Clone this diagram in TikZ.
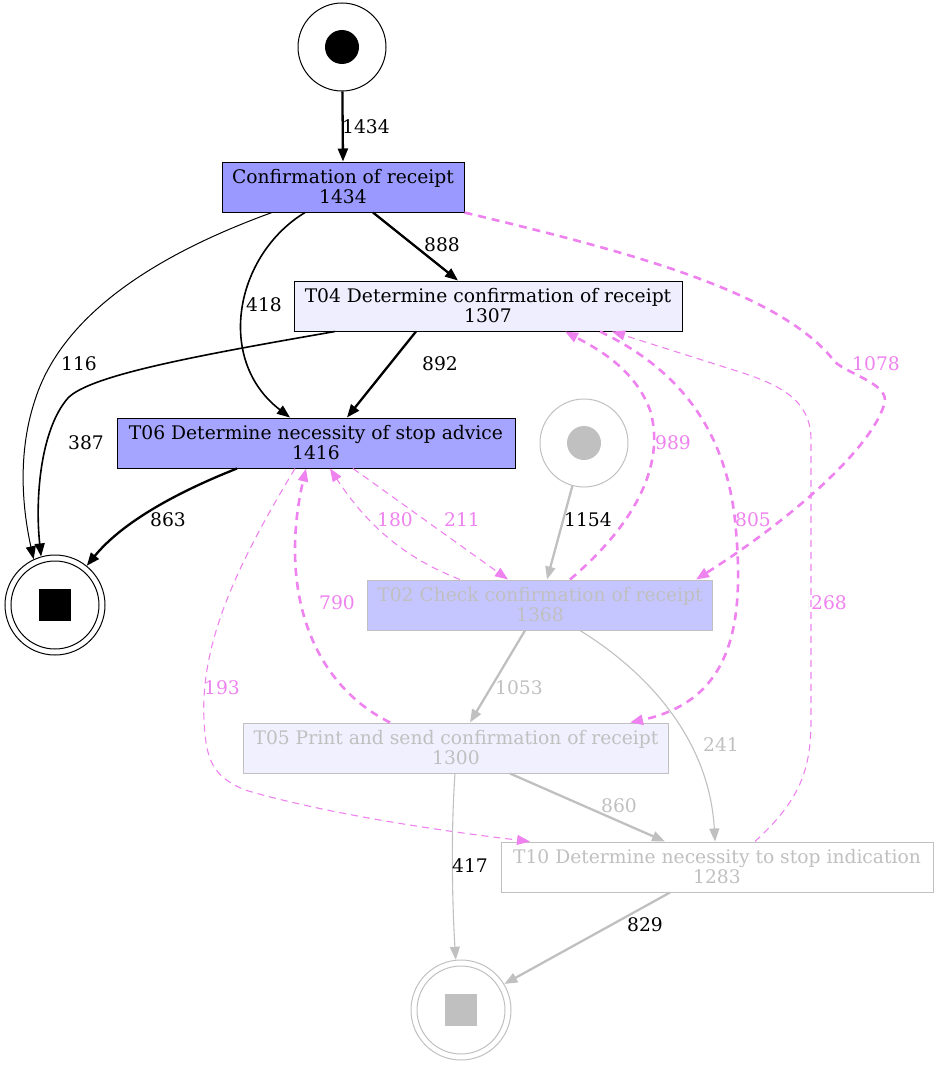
\documentclass[tikz,border=0pt]{standalone}
\usepackage{fontspec}
\setmainfont{DejaVu Serif}
\usetikzlibrary{arrows.meta}
\definecolor{pk}{RGB}{238,130,238}
\definecolor{gr}{RGB}{192,192,192}
\definecolor{fA}{RGB}{153,153,255}
\definecolor{fB}{RGB}{165,165,255}
\definecolor{fC}{RGB}{197,197,255}
\definecolor{fD}{RGB}{238,238,255}
\definecolor{fE}{RGB}{240,240,255}
\newcommand{\fsz}{\fontsize{18.7}{20}\selectfont}
\tikzset{
  box/.style={draw, line width=1pt, rectangle, minimum height=50pt, inner sep=0pt, align=center, font=\fsz},
  gbox/.style={box, draw=gr, text=gr},
  lbl/.style={font=\fsz, inner sep=1pt},
  tip/.style={-{Triangle[length=13pt,width=10pt]}},
  bk1/.style={tip, draw=black, line width=1pt},
  bk15/.style={tip, draw=black, line width=1.6pt},
  bk2/.style={tip, draw=black, line width=2.3pt},
  pk1/.style={tip, draw=pk, line width=1.1pt, dash pattern=on 7pt off 5pt},
  pk2/.style={tip, draw=pk, line width=2.6pt, dash pattern=on 8pt off 6pt},
  gr1/.style={tip, draw=gr, line width=1.1pt},
  gr2/.style={tip, draw=gr, line width=2.3pt},
}
\begin{document}
\begin{tikzpicture}[x=1pt,y=-1pt]
\useasboundingbox (0,0) rectangle (939,1065);
% nodes
\node[draw, line width=1pt, circle, minimum size=88pt, inner sep=0pt] (s1) at (342,47) {};
\fill (s1.center) circle[radius=17pt];
\node[draw=gr, line width=1pt, circle, minimum size=88pt, inner sep=0pt] (s2) at (584,443) {};
\fill[gr] (s2.center) circle[radius=17pt];
\node[draw, line width=1pt, circle, minimum size=100pt, inner sep=0pt] (e1) at (55,605) {};
\draw[line width=1pt] (e1.center) circle[radius=44pt];
\fill (39,589) rectangle (71,621);
\node[draw=gr, line width=1pt, circle, minimum size=100pt, inner sep=0pt] (e2) at (461,1010) {};
\draw[gr, line width=1pt] (e2.center) circle[radius=44pt];
\fill[gr] (445,994) rectangle (477,1026);

\node[box, fill=fA, minimum width=242pt] (A) at (343,187) {Confirmation of receipt\\1434};
\node[box, fill=fD, minimum width=388pt] (T04) at (488,306) {T04 Determine confirmation of receipt\\1307};
\node[box, fill=fB, minimum width=398pt] (T06) at (316,443) {T06 Determine necessity of stop advice\\1416};
\node[gbox, fill=fC, minimum width=345pt] (T02) at (540,605) {T02 Check confirmation of receipt\\1368};
\node[gbox, fill=fE, minimum width=425pt] (T05) at (456,748) {T05 Print and send confirmation of receipt\\1300};
\node[gbox, fill=white, minimum width=432pt] (T10) at (717,867) {T10 Determine necessity to stop indication\\1283};

% edges
\draw[bk2] (s1) -- (A.north) node[lbl] at (366,127) {1434};
\draw[bk2] ([xshift=30pt]A.south) -- ([xshift=-30pt]T04.north) node[lbl] at (442,245) {888};
\draw[bk15] ([xshift=-38pt]A.south) .. controls (235,255) and (215,360) .. ([xshift=-26pt]T06.north) node[lbl] at (264,305) {418};
\draw[bk1] ([xshift=-71pt]A.south) .. controls (155,255) and (62,315) .. (35,400) .. controls (15,460) and (25,520) .. (e1.115) node[lbl] at (79,364) {116};
\draw[pk2] (A.south east) .. controls (620,250) and (780,290) .. (835,362) .. controls (850,375) and (892,385) .. (884,405) .. controls (870,450) and (790,520) .. ([xshift=-17pt]T02.north east) node[lbl, text=pk] at (876,364) {1078};
\draw[bk2] ([xshift=-72pt]T04.south) -- ([xshift=31pt]T06.north) node[lbl] at (440,364) {892};
\draw[bk15] ([xshift=-153pt]T04.south) .. controls (200,355) and (90,375) .. (68,398) .. controls (40,430) and (35,500) .. (e1.106) node[lbl] at (86,443) {387};
\draw[bk2] ([xshift=-79pt]T06.south) .. controls (170,495) and (120,525) .. (e1.51) node[lbl] at (168,520) {863};
\draw[pk1] ([xshift=37pt]T06.south) -- ([xshift=-32pt]T02.north) node[lbl, text=pk] at (462,520) {211};
\draw[pk1] ([xshift=-80pt]T02.north) .. controls (410,560) and (370,530) .. ([xshift=14pt]T06.south) node[lbl, text=pk] at (395,520) {180};
\draw[pk1] ([xshift=-21pt]T06.south) .. controls (240,560) and (200,640) .. (204,720) .. controls (206,760) and (212,776) .. (245,790) .. controls (330,815) and (450,832) .. ([xshift=-187pt]T10.north) node[lbl, text=pk] at (222,688) {193};
\draw[pk2] ([xshift=-66pt]T05.north) .. controls (305,680) and (280,580) .. ([xshift=-10pt]T06.south) node[lbl, text=pk] at (337,603) {790};
\draw[gr2] (s2) -- ([xshift=7pt]T02.north) node[lbl] at (588,520) {1154};
\draw[pk2] ([xshift=30pt]T02.north) .. controls (640,520) and (665,460) .. (650,410) .. controls (635,370) and (600,350) .. ([xshift=77pt]T04.south) node[lbl, text=pk] at (673,443) {989};
\draw[pk2] ([xshift=112pt]T04.south) .. controls (680,370) and (725,430) .. (735,520) .. controls (745,620) and (735,700) .. ([xshift=174pt]T05.north) node[lbl, text=pk] at (753,520) {805};
\draw[pk1] ([xshift=38pt]T10.north) .. controls (800,800) and (811,770) .. (811,720) -- (811,440) .. controls (811,400) and (780,385) .. (740,372) -- ([xshift=124pt]T04.south) node[lbl, text=pk] at (829,603) {268};
\draw[gr2] ([xshift=-15pt]T02.south) -- ([xshift=14pt]T05.north) node[lbl, text=gr] at (519,688) {1053};
\draw[gr1] ([xshift=40pt]T02.south) .. controls (660,680) and (710,750) .. ([xshift=-2pt]T10.north) node[lbl, text=gr] at (721,745) {241};
\draw[gr2] ([xshift=54pt]T05.south) -- ([xshift=-52pt]T10.north) node[lbl, text=gr] at (619,806) {860};
\draw[gr1] ([xshift=-1pt]T05.south) .. controls (451,830) and (452,900) .. (e2.96) node[lbl] at (470,866) {417};
\draw[gr2] ([xshift=-47pt]T10.south) -- (e2.31) node[lbl] at (645,925) {829};
\end{tikzpicture}
\end{document}
